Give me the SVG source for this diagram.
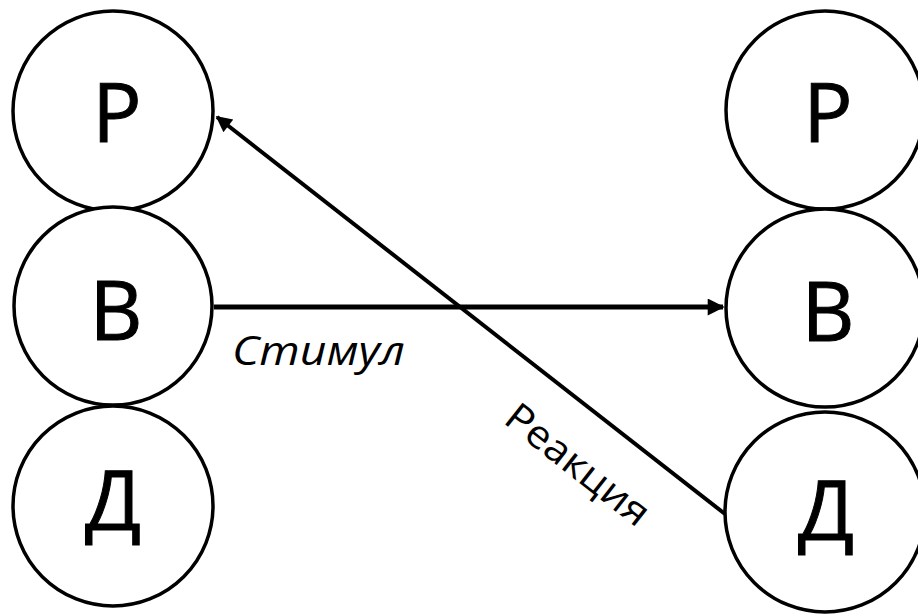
<svg xmlns="http://www.w3.org/2000/svg" width="918" height="615" viewBox="0 0 918 615">
<defs>
<style>
.node circle{fill:#fff;stroke:#000;stroke-width:3.5}
.node text{font-family:"Open Sans","DejaVu Sans",sans-serif;font-size:82px;text-anchor:middle;fill:#000;stroke:#000;stroke-width:1}
.conn{stroke:#000;fill:none}
.lbl{font-family:"Open Sans","DejaVu Sans",sans-serif;fill:#000}
</style>
<marker id="ah" viewBox="0 0 10 10" refX="9" refY="5" markerWidth="4" markerHeight="3.4" markerUnits="strokeWidth" orient="auto">
<path d="M0,0 L10,5 L0,10 z" fill="#000"/>
</marker>
<marker id="ah2" viewBox="0 0 10 10" refX="9" refY="5" markerWidth="5" markerHeight="4" markerUnits="strokeWidth" orient="auto">
<path d="M0,0 L10,5 L0,10 z" fill="#000"/>
</marker>
</defs>
<rect width="918" height="615" fill="#fff"/>
<g id="L-P" class="node"><circle cx="113" cy="111" r="100"/><text x="117" y="142">Р</text></g>
<g id="L-B" class="node"><circle cx="113" cy="306" r="99"/><text x="116" y="340">В</text></g>
<g id="L-D" class="node"><circle cx="113" cy="506" r="100"/><text x="113" y="530">Д</text></g>
<g id="R-P" class="node"><circle cx="825" cy="110" r="99"/><text x="828" y="142">Р</text></g>
<g id="R-B" class="node"><circle cx="825" cy="308" r="99"/><text x="828" y="341">В</text></g>
<g id="R-D" class="node"><circle cx="825" cy="512" r="100"/><text x="826" y="540">Д</text></g>
<g id="connectors">
<line class="conn" x1="214" y1="307" x2="723" y2="307" stroke-width="5" marker-end="url(#ah)"/>
<line class="conn" x1="725" y1="514" x2="217" y2="117" stroke-width="4" marker-end="url(#ah2)"/>
<text class="lbl" x="232" y="365" font-size="40" font-style="italic" textLength="173" lengthAdjust="spacingAndGlyphs">Стимул</text>
<text class="lbl" transform="translate(502,422) rotate(38.2)" font-size="39" textLength="172" lengthAdjust="spacingAndGlyphs">Реакция</text>
</g>
</svg>
